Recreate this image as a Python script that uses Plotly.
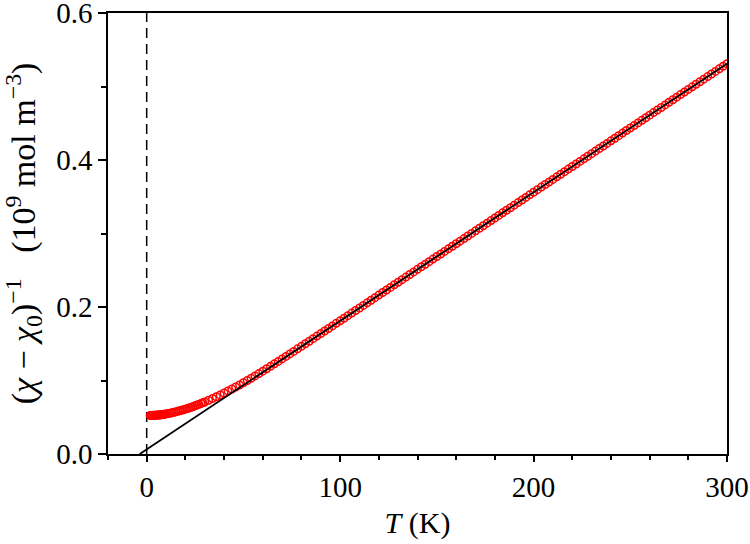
import plotly.graph_objects as go

# Measured data: T (K) and (chi - chi0)^-1 (10^9 mol m^-3)
T_data = [1.8, 2.2, 2.6, 3.0, 3.5, 4.0, 4.5, 5.0, 5.5, 6, 6.5, 7, 7.5, 8, 8.5, 9, 9.5, 10, 11, 12, 13, 14, 15, 16, 17, 18, 19, 20,
          21, 22, 23, 24, 25, 26, 27, 28, 29, 30, 32, 34, 36, 38, 40, 42, 44, 46, 48, 50, 52, 54, 56, 58, 60,
          62, 64, 66, 68, 70, 72, 74, 76, 78, 80, 82, 84, 86, 88, 90, 92, 94, 96, 98, 100,
          102, 104, 106, 108, 110, 112, 114, 116, 118, 120, 122, 124, 126, 128, 130,
          132, 134, 136, 138, 140, 142, 144, 146, 148, 150, 152, 154, 156, 158, 160,
          162, 164, 166, 168, 170, 172, 174, 176, 178, 180, 182, 184, 186, 188, 190,
          192, 194, 196, 198, 200, 202, 204, 206, 208, 210, 212, 214, 216, 218, 220,
          222, 224, 226, 228, 230, 232, 234, 236, 238, 240, 242, 244, 246, 248, 250,
          252, 254, 256, 258, 260, 262, 264, 266, 268, 270, 272, 274, 276, 278, 280,
          282, 284, 286, 288, 290, 292, 294, 296, 298, 300]
inv_chi = [0.0524, 0.0524, 0.0525, 0.0525, 0.0526, 0.0526, 0.0527, 0.0528, 0.0529, 0.0530, 0.0531, 0.0533, 0.0534,
           0.0536, 0.0538, 0.0540, 0.0542, 0.0545, 0.0550, 0.0555, 0.0561, 0.0567, 0.0573, 0.0580, 0.0587, 0.0594,
           0.0602, 0.0610, 0.0618, 0.0627, 0.0636, 0.0645, 0.0655, 0.0665, 0.0675, 0.0686, 0.0697, 0.0708,
           0.0731, 0.0755, 0.0779, 0.0804, 0.0830, 0.0857,
           0.0884, 0.0911, 0.0939, 0.0970, 0.1000, 0.1031, 0.1062, 0.1094, 0.1127,
           0.1160, 0.1193, 0.1227, 0.1260, 0.1294, 0.1328, 0.1362, 0.1396, 0.1431, 0.1465,
           0.1500, 0.1534, 0.1569, 0.1604, 0.1638, 0.1673, 0.1708, 0.1743, 0.1778, 0.1812,
           0.1847, 0.1882, 0.1917, 0.1952, 0.1987, 0.2022, 0.2057, 0.2092, 0.2127, 0.2162,
           0.2197, 0.2232, 0.2267, 0.2302, 0.2337, 0.2372, 0.2407, 0.2442, 0.2477, 0.2512,
           0.2547, 0.2582, 0.2617, 0.2652, 0.2687, 0.2721, 0.2756, 0.2791, 0.2826, 0.2861,
           0.2896, 0.2931, 0.2966, 0.3001, 0.3036, 0.3071, 0.3106, 0.3141, 0.3176, 0.3211,
           0.3246, 0.3281, 0.3316, 0.3351, 0.3386, 0.3421, 0.3456, 0.3491, 0.3526, 0.3561,
           0.3596, 0.3631, 0.3666, 0.3701, 0.3736, 0.3771, 0.3806, 0.3841, 0.3876, 0.3911,
           0.3946, 0.3981, 0.4016, 0.4051, 0.4086, 0.4121, 0.4156, 0.4191, 0.4226, 0.4261,
           0.4296, 0.4331, 0.4366, 0.4401, 0.4436, 0.4470, 0.4505, 0.4540, 0.4575, 0.4610,
           0.4645, 0.4680, 0.4715, 0.4750, 0.4785, 0.4820, 0.4855, 0.4890, 0.4925, 0.4960,
           0.4995, 0.5030, 0.5065, 0.5100, 0.5135, 0.5170, 0.5205, 0.5240, 0.5275, 0.5310]

# Curie-Weiss fit line endpoints
T_fit = [-3.6, 300]
inv_fit = [0.0, 0.531]

# Vertical dashed reference at T = 0
T_ref = [0, 0]
y_ref = [0.0, 0.6]

x_tickvals = [0, 100, 200, 300]
x_ticktext = ["0", "100", "200", "300"]
y_tickvals = [0.0, 0.2, 0.4, 0.6]
y_ticktext = ["0.0", "0.2", "0.4", "0.6"]

FONT = "Liberation Serif, Times New Roman, serif"

fig = go.Figure()
fig.add_trace(go.Scatter(x=T_ref, y=y_ref, mode="lines",
                         line=dict(color="black", width=1.5, dash="10px,6px"),
                         showlegend=False, hoverinfo="skip", cliponaxis=False))
fig.add_trace(go.Scatter(x=T_data, y=inv_chi, mode="markers",
                         marker=dict(symbol="circle-open", size=7.5, color="#ff0000",
                                     line=dict(width=1.5, color="#ff0000")),
                         showlegend=False))
fig.add_trace(go.Scatter(x=T_fit, y=inv_fit, mode="lines",
                         line=dict(color="black", width=1.8),
                         showlegend=False))

axis_common = dict(
    showline=True, linecolor="black", linewidth=1.5, mirror=True,
    ticks="outside", tickwidth=1.5, tickcolor="black", automargin=False,
    showgrid=False, zeroline=False, ticklabeloverflow="allow",
    tickfont=dict(family=FONT, size=29, color="black"),
)

fig.update_xaxes(
    range=[-20, 300], tickvals=x_tickvals, ticktext=x_ticktext, ticklen=6,
    minor=dict(dtick=20, tick0=0, ticks="outside", ticklen=4, tickwidth=1.5, tickcolor="black"),
    title=dict(text="<i>T</i> (K)", font=dict(family=FONT, size=30, color="black"), standoff=10),
    **axis_common,
)
fig.update_yaxes(
    range=[0, 0.6], tickvals=y_tickvals, ticktext=y_ticktext, ticklen=8,
    minor=dict(dtick=0.1, tick0=0, ticks="outside", ticklen=5, tickwidth=1.5, tickcolor="black"),
    title=dict(text="(<i>χ</i> − <i>χ</i><sub>0</sub>)<sup>−1</sup>\u00a0\u00a0\u00a0(10<sup>9</sup>\u00a0mol\u00a0m<sup>−3</sup>)",
               font=dict(family=FONT, size=34, color="black"), standoff=12),
    **axis_common,
)

fig.update_layout(
    width=750, height=544,
    margin=dict(l=108, r=23, t=13, b=90),
    paper_bgcolor="white", plot_bgcolor="white",
    font=dict(family=FONT, color="black"),
)

fig.write_html("out.html", config={"displayModeBar": False},
               post_script="document.body.style.margin='0';")
